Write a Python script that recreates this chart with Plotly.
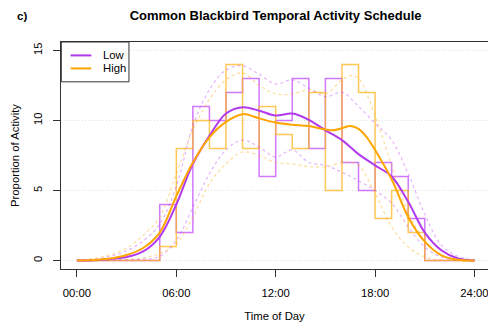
import plotly.graph_objects as go

# ---------------- data ----------------
bin_edges = list(range(0, 25))  # hour edges 0..24
low_hist = [0, 0, 0, 0, 0, 4, 2, 11, 10, 12, 13, 6, 10, 13, 8, 13, 7, 5, 7, 6, 3, 0, 0, 0]
high_hist = [0, 0, 0, 0, 0, 1, 8, 10, 8, 14, 8, 11, 9, 8, 12, 5, 14, 12, 3, 5, 2, 0, 0, 0]

hours = [0, 1, 2, 3, 4, 5, 6, 7, 8, 9, 10, 11, 12, 13, 14, 15, 16, 17, 18, 19, 20, 21, 22, 23, 24]
low_smooth = [0.0, 0.03, 0.12, 0.25, 0.65, 1.7, 4.0, 6.9, 8.9, 10.5, 10.95, 10.7, 10.35, 10.5, 10.05,
              9.3, 8.6, 7.6, 6.8, 6.0, 4.2, 2.0, 0.74, 0.15, 0.0]
low_upper = [0.02, 0.1, 0.3, 0.7, 1.4, 2.6, 5.3, 9.6, 12.2, 13.6, 13.9, 13.3, 12.6, 12.9, 12.3,
             11.7, 12.0, 11.0, 9.8, 8.6, 6.2, 3.3, 1.1, 0.3, 0.05]
low_lower = [0.0, 0.0, 0.02, 0.05, 0.1, 0.3, 1.45, 3.8, 6.2, 7.9, 8.6, 8.1, 7.4, 7.9, 7.0,
             6.8, 6.3, 5.7, 5.0, 4.1, 2.4, 0.97, 0.26, 0.05, 0.0]

high_hours = [0, 1, 2, 3, 4, 5, 6, 7, 8, 9, 10, 11, 12, 13, 14, 15, 15.5, 16, 16.5, 17, 17.5, 18, 19, 20, 21, 22, 23, 24]
high_smooth = [0.0, 0.04, 0.15, 0.4, 0.9, 2.0, 4.6, 7.0, 8.8, 9.9, 10.45, 10.15, 9.85, 9.7, 9.6,
               9.35, 9.3, 9.45, 9.6, 9.4, 8.8, 7.9, 5.8, 3.1, 1.35, 0.38, 0.06, 0.0]
high_band_hours = [0, 1, 2, 3, 4, 5, 6, 7, 8, 9, 10, 11, 12, 13, 14, 15, 16, 16.5, 17, 18, 19, 20, 21, 22, 23, 24]
high_upper = [0.03, 0.15, 0.4, 0.9, 1.8, 3.1, 6.2, 9.3, 11.5, 12.9, 13.4, 12.5, 11.9, 11.9, 12.2,
              11.9, 12.9, 13.2, 13.0, 10.3, 6.8, 3.4, 1.45, 0.4, 0.08, 0.0]
high_lower = [0.0, 0.0, 0.02, 0.08, 0.2, 0.5, 1.2, 3.1, 5.5, 6.9, 7.75, 7.5, 7.0, 6.9, 6.7,
              6.7, 7.0, 7.0, 6.8, 4.8, 2.4, 0.97, 0.26, 0.05, 0.0, 0.0]

series_names = ["Low", "High"]
x_tick_vals = [0, 6, 12, 18, 24]
x_tick_text = ["00:00", "06:00", "12:00", "18:00", "24:00"]
y_tick_vals = [0, 5, 10, 15]

# ---------------- styles ----------------
PURPLE = "#B23AEE"
ORANGE = "#FFA500"
PURPLE_HIST = "rgba(190,62,255,0.7)"
ORANGE_HIST = "rgba(255,180,30,0.75)"
PURPLE_DOT = "rgba(190,62,255,0.40)"
ORANGE_DOT = "rgba(255,175,30,0.45)"
FONT = "Liberation Sans, Arial, sans-serif"

fig = go.Figure()

def steps(vals):
    return vals + [vals[-1]]

# histograms (step)
fig.add_trace(go.Scatter(x=bin_edges, y=steps(low_hist), mode="lines", line=dict(shape="hv", color=PURPLE_HIST, width=1.5),
                         showlegend=False, hoverinfo="skip"))
fig.add_trace(go.Scatter(x=bin_edges, y=steps(high_hist), mode="lines", line=dict(shape="hv", color=ORANGE_HIST, width=1.5),
                         showlegend=False, hoverinfo="skip"))

# bands
for xs, ys, c in [(hours, low_upper, PURPLE_DOT), (hours, low_lower, PURPLE_DOT),
                  (high_band_hours, high_upper, ORANGE_DOT), (high_band_hours, high_lower, ORANGE_DOT)]:
    fig.add_trace(go.Scatter(x=xs, y=ys, mode="lines", line=dict(shape="spline", smoothing=1.0, color=c, width=1.2, dash="dot"),
                             showlegend=False, hoverinfo="skip"))

# smooth lines
fig.add_trace(go.Scatter(x=hours, y=low_smooth, mode="lines", name=series_names[0], showlegend=False,
                         line=dict(shape="spline", smoothing=1.0, color=PURPLE, width=2)))
fig.add_trace(go.Scatter(x=high_hours, y=high_smooth, mode="lines", name=series_names[1], showlegend=False,
                         line=dict(shape="spline", smoothing=1.0, color=ORANGE, width=2)))

W, H = 488, 330
ml, mt, mb, mr = 61.4, 41.9, 61.3, 0
plot_w = W - ml - mr
plot_h = H - mt - mb
px_per_hour = 16.55
x_lo = -0.96
x_hi = x_lo + plot_w / px_per_hour

def px(xp):
    return (xp - ml) / plot_w

def py(yp):
    return (H - mb - yp) / plot_h

# legend (box with line keys and labels)
shapes = [dict(type="rect", xref="paper", yref="paper", x0=px(61.7), x1=px(129.3), y0=py(81.7), y1=1,
               line=dict(color="#333333", width=1), fillcolor="white", layer="above")]
annotations = []
for name, col, yl in [(series_names[0], PURPLE, 55.3), (series_names[1], ORANGE, 68.3)]:
    shapes.append(dict(type="line", xref="paper", yref="paper", x0=px(71), x1=px(91.7), y0=py(yl), y1=py(yl),
                       line=dict(color=col, width=2), layer="above"))
    annotations.append(dict(text=name, xref="paper", yref="paper", x=px(101), y=py(yl), xanchor="left",
                            yanchor="middle", showarrow=False, font=dict(size=11.3, family=FONT, color="black")))

annotations.append(dict(text="<b>c)</b>", xref="paper", yref="paper", x=px(22), y=py(15.7),
                        xanchor="center", yanchor="middle", showarrow=False, font=dict(size=11.5, family=FONT)))

fig.update_layout(
    width=W, height=H,
    margin=dict(l=ml, r=mr, t=mt, b=mb, pad=0),
    paper_bgcolor="white", plot_bgcolor="white",
    font=dict(family=FONT, size=11.3, color="black"),
    title=dict(text="<b>Common Blackbird Temporal Activity Schedule</b>", xref="paper", x=px(275.8), xanchor="center",
               yref="container", y=1 - 15.7 / H, yanchor="middle", font=dict(size=13, family=FONT, color="black")),
    showlegend=False,
    shapes=shapes,
    annotations=annotations,
)

fig.update_xaxes(range=[x_lo, x_hi], tickvals=x_tick_vals, ticktext=x_tick_text,
                 showgrid=False, zeroline=False, showline=True, mirror=True, linecolor="#333333", linewidth=1,
                 ticks="outside", ticklen=7, tickcolor="#333333", ticklabelstandoff=6, ticklabeloverflow="allow",
                 title=dict(text="Time of Day", standoff=14, font=dict(size=11.3)))
fig.update_yaxes(range=[-0.6, 15.6], tickvals=y_tick_vals, tickangle=-90,
                 showgrid=True, gridcolor="#e0e0e0", griddash="1px,2px", gridwidth=1,
                 zeroline=False, showline=True, mirror=False, linecolor="#333333", linewidth=1,
                 ticks="outside", ticklen=7, tickcolor="#333333", ticklabelstandoff=6,
                 title=dict(text="Proportion of Activity", standoff=10, font=dict(size=11.3)))

fig.write_html("out.html")
